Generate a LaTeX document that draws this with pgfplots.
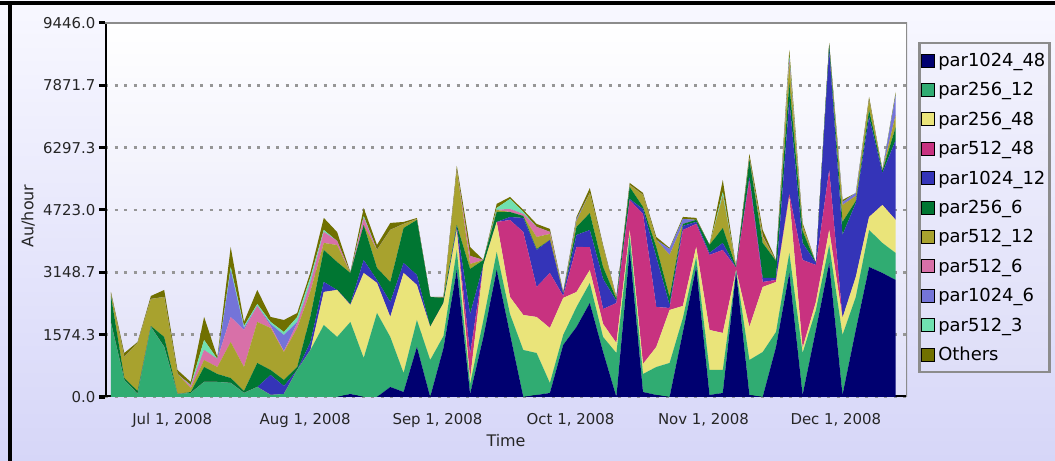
\documentclass[border=0pt]{standalone}
\usepackage{fontspec}
\setmainfont{DejaVu Sans}
\usepackage{pgfplots}
\usepackage{pgfplotstable}
\pgfplotsset{compat=1.18}

\definecolor{cNavy}{RGB}{0,0,112}
\definecolor{cGreen}{RGB}{48,172,114}
\definecolor{cYellow}{RGB}{234,228,122}
\definecolor{cMagenta}{RGB}{200,50,128}
\definecolor{cBlue}{RGB}{52,52,184}
\definecolor{cDkGreen}{RGB}{0,118,50}
\definecolor{cOlive}{RGB}{168,162,46}
\definecolor{cPink}{RGB}{216,112,168}
\definecolor{cPeri}{RGB}{116,116,216}
\definecolor{cMint}{RGB}{112,224,176}
\definecolor{cOthers}{RGB}{112,112,0}
\definecolor{bgTop}{RGB}{248,248,255}
\definecolor{bgBot}{RGB}{214,214,248}
\definecolor{plotBot}{RGB}{224,224,248}
\definecolor{frameGray}{RGB}{140,140,140}
\definecolor{gridGray}{RGB}{150,150,150}

% columns: index, par1024_48, par256_12, par256_48, par512_48, par1024_12,
% par256_6, par512_12, par512_6, par1024_6, par512_3, Others (Au/hour)
\pgfplotstableread{
i nv gr ye ma bl dg ol pk pw mt ot
0 0 1869 0 0 0 682 51 0 0 0 51
1 0 429 0 0 0 51 530 0 0 0 101
2 0 76 0 0 0 76 1212 0 0 0 25
3 0 1768 0 0 0 25 682 0 0 0 76
4 0 1263 0 0 0 253 1010 0 0 0 177
5 0 76 0 0 0 0 505 0 0 0 101
6 0 101 0 0 0 25 101 51 0 25 76
7 0 379 0 0 0 379 177 253 0 253 581
8 0 379 0 0 0 202 177 202 0 0 51
9 0 354 0 0 0 126 909 632 1187 76 505
10 0 101 0 0 0 51 606 935 51 51 101
11 0 253 0 0 0 606 1036 404 0 51 354
12 0 51 0 0 505 126 1061 51 51 51 126
13 0 76 0 0 202 152 707 25 404 76 303
14 0 682 0 0 0 76 985 126 25 126 101
15 0 1187 0 0 202 657 632 202 25 126 126
16 0 1819 834 0 253 808 177 278 0 51 303
17 0 1516 1187 0 0 707 429 101 0 0 227
18 76 1819 429 0 25 783 0 0 0 0 25
19 0 985 2147 0 328 884 0 177 0 51 202
20 0 2122 758 0 76 303 455 0 0 0 126
21 253 1263 505 0 379 505 1314 0 0 0 177
22 126 480 2526 0 253 884 101 0 0 0 51
23 1263 682 884 0 253 1389 25 0 0 0 25
24 0 935 834 0 0 758 0 0 0 0 0
25 1238 303 834 0 0 126 0 0 0 0 25
26 3208 505 505 0 76 51 1389 0 0 0 101
27 76 253 126 632 1010 1137 126 202 0 0 227
28 1516 429 1389 0 0 126 0 0 0 0 0
29 3208 455 758 0 0 253 51 0 0 51 101
30 1591 505 429 1945 76 126 0 76 0 253 51
31 0 1187 884 2097 354 51 0 51 0 51 51
32 51 1061 909 758 935 25 303 253 0 0 76
33 101 253 1389 1389 834 0 152 51 0 0 76
34 1314 253 935 51 51 0 0 0 0 0 51
35 1768 505 379 1137 303 202 152 0 51 0 51
36 2374 505 328 581 429 429 505 0 0 0 126
37 1137 379 328 379 758 303 505 0 0 0 51
38 0 1111 253 1010 51 51 25 0 0 0 25
39 3713 379 126 758 25 303 51 0 0 0 51
40 126 455 253 3789 126 51 303 0 0 0 51
41 51 707 505 1010 1263 253 177 0 0 0 76
42 0 859 1339 51 76 202 1061 0 152 0 25
43 1642 354 303 1920 101 51 0 0 126 0 51
44 3284 253 253 581 51 51 0 0 0 0 51
45 51 632 1010 1895 51 202 0 0 0 0 0
46 101 581 935 2097 177 379 808 0 0 101 303
47 3158 51 0 51 0 25 0 0 0 0 0
48 51 884 834 3713 76 429 51 0 0 0 101
49 0 1137 1642 126 101 884 152 25 0 0 152
50 1263 379 1263 51 51 429 0 0 0 0 25
51 3132 505 1415 76 2374 429 505 51 51 76 152
52 51 1061 126 2223 429 303 126 0 0 0 76
53 1692 505 202 935 51 0 0 0 0 0 0
54 3385 455 379 1516 3031 126 0 0 0 0 51
55 51 1516 429 0 2097 328 429 0 76 0 51
56 1692 834 505 0 1869 51 126 0 76 0 0
57 3284 935 328 0 2526 177 253 0 0 0 76
58 3132 758 960 0 808 51 25 0 0 0 0
59 2955 682 834 0 2021 328 303 0 505 0 76
}\data

\begin{document}
\begin{tikzpicture}
\useasboundingbox (0,0) rectangle (1055bp,461bp);
\shade[top color=bgTop, bottom color=bgBot] (0,0) rectangle (1055bp,461bp);
\draw[black, line width=4bp] (0,458bp) -- (1055bp,458bp);
\draw[black, line width=3.5bp] (10bp,0) -- (10bp,458bp);
\begin{axis}[
  at={(105bp,64bp)}, anchor=south west,
  scale only axis, width=802bp, height=374bp,
  xmin=-0.45, xmax=59.85, ymin=0, ymax=9446,
  stack plots=y,
  axis background/.style={top color=white, bottom color=plotBot},
  axis line style={draw=none},
  tick pos=left,
  ytick={0,1574.3,3148.7,4723,6297.3,7871.7,9446},
  yticklabels={0.0,1574.3,3148.7,4723.0,6297.3,7871.7,9446.0},
  xtick={4.6,14.6,24.55,34.55,44.55,54.5},
  xticklabels={{Jul 1, 2008},{Aug 1, 2008},{Sep 1, 2008},{Oct 1, 2008},{Nov 1, 2008},{Dec 1, 2008}},
  x tick style={draw=none},
  extra x ticks={9.7,19.66,29.7,39.62,49.62},
  extra x tick labels={},
  extra x tick style={tick style={draw=black, line width=3bp}, major tick length=8bp},
  y tick style={draw=black, line width=3bp},
  major tick length=6bp, tick align=outside,
  ymajorgrids,
  grid style={gridGray, line width=2.5bp, dash pattern=on 3bp off 6.5bp},
  tick label style={font=\fontsize{15}{18}\selectfont, black!85},
  xticklabel style={yshift=-7bp},
  xlabel={Time}, ylabel={Au/hour},
  label style={font=\fontsize{16}{19}\selectfont, black!85},
  xlabel style={at={(axis description cs:0.5,0)}, anchor=center, yshift=-44bp},
  ylabel style={at={(axis description cs:-0.096,0.484)}, anchor=center},
  legend style={at={(1,1)}, anchor=north west, xshift=11bp, yshift=-19bp,
    draw=frameGray, line width=2.5bp,
    top color={rgb,255:red,242;green,242;blue,253}, bottom color={rgb,255:red,222;green,222;blue,248},
    font=\fontsize{18}{21}\selectfont, inner xsep=2bp, inner ysep=8bp,
    row sep=10.6bp, column sep=1bp},
  legend cell align=left,
  legend image code/.code={\draw[#1, draw=black, line width=1bp] (0bp,-6.5bp) rectangle (13bp,6.5bp);},
]
\addplot[fill=cNavy, draw=none] table[x=i, y=nv] {\data} \closedcycle;
\addlegendentry{par1024\_48}
\addplot[fill=cGreen, draw=none] table[x=i, y=gr] {\data} \closedcycle;
\addlegendentry{par256\_12}
\addplot[fill=cYellow, draw=none] table[x=i, y=ye] {\data} \closedcycle;
\addlegendentry{par256\_48}
\addplot[fill=cMagenta, draw=none] table[x=i, y=ma] {\data} \closedcycle;
\addlegendentry{par512\_48}
\addplot[fill=cBlue, draw=none] table[x=i, y=bl] {\data} \closedcycle;
\addlegendentry{par1024\_12}
\addplot[fill=cDkGreen, draw=none] table[x=i, y=dg] {\data} \closedcycle;
\addlegendentry{par256\_6}
\addplot[fill=cOlive, draw=none] table[x=i, y=ol] {\data} \closedcycle;
\addlegendentry{par512\_12}
\addplot[fill=cPink, draw=none] table[x=i, y=pk] {\data} \closedcycle;
\addlegendentry{par512\_6}
\addplot[fill=cPeri, draw=none] table[x=i, y=pw] {\data} \closedcycle;
\addlegendentry{par1024\_6}
\addplot[fill=cMint, draw=none] table[x=i, y=mt] {\data} \closedcycle;
\addlegendentry{par512\_3}
\addplot[fill=cOthers, draw=none] table[x=i, y=ot] {\data} \closedcycle;
\addlegendentry{Others}
\draw[frameGray, line width=2.5bp] (rel axis cs:0,1) -- (rel axis cs:1,1) -- (rel axis cs:1,0);
\draw[black, line width=3bp] (rel axis cs:0,1) -- (rel axis cs:0,0) -- (rel axis cs:1,0);
\end{axis}
\end{tikzpicture}
\end{document}
